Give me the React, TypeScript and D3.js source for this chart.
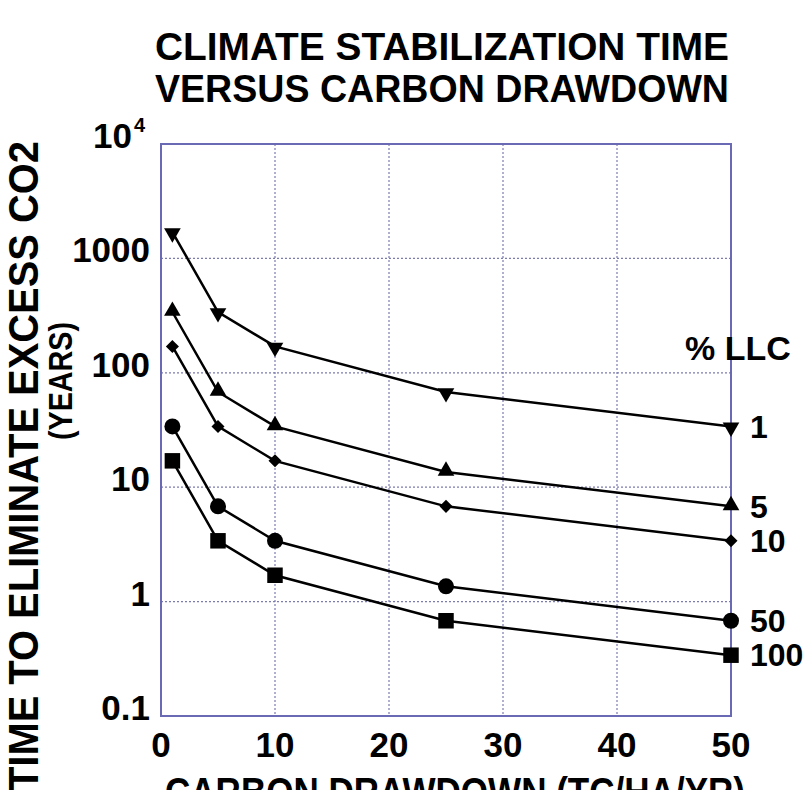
import React from "react";
import * as d3 from "d3";

const drawdown = [1, 5, 10, 25, 50];
const llcLabels = ["1", "5", "10", "50", "100"];
const series1 = [1700, 340, 170, 68, 34];
const series5 = [340, 68, 34, 13.6, 6.8];
const series10 = [170, 34, 17, 6.8, 3.4];
const series50 = [34, 6.8, 3.4, 1.36, 0.68];
const series100 = [17, 3.4, 1.7, 0.68, 0.34];
const xTicks = [0, 10, 20, 30, 40, 50];
const yTicks = [0.1, 1, 10, 100, 1000];
const yTickLabels = ["0.1", "1", "10", "100", "1000"];
const markerShapes = ["triDown", "triUp", "diamond", "circle", "square"];

const W = 811, H = 790;
const L = 161, R = 731, T = 144, B = 716;

export default function App() {
  const x = d3.scaleLinear().domain([0, 50]).range([L, R]);
  const y = d3.scaleLog().domain([0.1, 10000]).range([B, T]);
  const allSeries = [series1, series5, series10, series50, series100];
  const line = d3.line<number>().x((_, i) => x(drawdown[i])).y((v) => y(v));
  const font = "'Liberation Sans Narrow', 'Liberation Sans', Arial, sans-serif";
  const font2 = "'Liberation Sans', Arial, sans-serif";
  const grid = "#7b7bb0";
  const border = "#6a6ab4";

  const marker = (shape: string, cx: number, cy: number, k: string) => {
    switch (shape) {
      case "triDown":
        return <path key={k} d={d3.symbol().type(d3.symbolTriangle).size(120)()!} transform={`translate(${cx},${cy + 1}) rotate(180)`} fill="#000" />;
      case "triUp":
        return <path key={k} d={d3.symbol().type(d3.symbolTriangle).size(120)()!} transform={`translate(${cx},${cy - 1})`} fill="#000" />;
      case "diamond":
        return <path key={k} d={d3.symbol().type(d3.symbolSquare).size(85)()!} transform={`translate(${cx},${cy}) rotate(45)`} fill="#000" />;
      case "circle":
        return <circle key={k} cx={cx} cy={cy} r={8} fill="#000" />;
      default:
        return <path key={k} d={d3.symbol().type(d3.symbolSquare).size(240)()!} transform={`translate(${cx},${cy})`} fill="#000" />;
    }
  };

  return (
    <div style={{ position: "absolute", left: 0, top: 0 }}>
      <svg width={W} height={H} style={{ display: "block", background: "#fff" }}>
        <text x={442} y={60} textAnchor="middle" fontFamily={font} fontWeight="bold" fontSize={38} textLength={574} lengthAdjust="spacingAndGlyphs">CLIMATE STABILIZATION TIME</text>
        <text x={442} y={102} textAnchor="middle" fontFamily={font} fontWeight="bold" fontSize={38} textLength={574} lengthAdjust="spacingAndGlyphs">VERSUS CARBON DRAWDOWN</text>

        {/* grid */}
        {xTicks.filter((t) => t > 0 && t < 50).map((t) => (
          <line key={"gx" + t} x1={x(t)} x2={x(t)} y1={T} y2={B} stroke={grid} strokeWidth={1.2} strokeDasharray="2,2" />
        ))}
        {yTicks.filter((t) => t > 0.1).map((t) => (
          <line key={"gy" + t} x1={L} x2={R} y1={y(t)} y2={y(t)} stroke={grid} strokeWidth={1.2} strokeDasharray="2,2" />
        ))}
        <rect x={L} y={T} width={R - L} height={B - T} fill="none" stroke={border} strokeWidth={2} />

        {/* y tick labels */}
        {yTicks.map((t, i) => (
          <text key={"yl" + t} x={150} y={y(t) + 4} textAnchor="end" fontFamily={font2} fontWeight="bold" fontSize={35}>{yTickLabels[i]}</text>
        ))}
        <text x={132} y={y(10000) + 4} textAnchor="end" fontFamily={font2} fontWeight="bold" fontSize={35}>10</text>
        <text x={134} y={y(10000) - 12} textAnchor="start" fontFamily={font2} fontWeight="bold" fontSize={20}>4</text>

        {/* x tick labels */}
        {xTicks.map((t) => (
          <text key={"xl" + t} x={x(t)} y={757} textAnchor="middle" fontFamily={font2} fontWeight="bold" fontSize={35}>{t}</text>
        ))}

        <text x={455} y={806} textAnchor="middle" fontFamily={font} fontWeight="bold" fontSize={40} textLength={580} lengthAdjust="spacingAndGlyphs">CARBON DRAWDOWN (TC/HA/YR)</text>
        <text transform="translate(38,466) rotate(-90)" textAnchor="middle" fontFamily={font} fontWeight="bold" fontSize={43} textLength={650} lengthAdjust="spacingAndGlyphs">TIME TO ELIMINATE EXCESS CO2</text>
        <text transform="translate(72,381) rotate(-90)" textAnchor="middle" fontFamily={font} fontWeight="bold" fontSize={34} textLength={118} lengthAdjust="spacingAndGlyphs">(YEARS)</text>

        {/* series */}
        {allSeries.map((s, si) => (
          <g key={"s" + si}>
            <path d={line(s)!} fill="none" stroke="#000" strokeWidth={2.5} />
            {s.map((v, i) => marker(markerShapes[si], x(drawdown[i]), y(v), `m${si}-${i}`))}
            <text x={750} y={y(s[s.length - 1])} dy="0.35em" fontFamily={font2} fontWeight="bold" fontSize={32}>{llcLabels[si]}</text>
          </g>
        ))}
        <text x={685} y={360} fontFamily={font2} fontWeight="bold" fontSize={34}>% LLC</text>
      </svg>
    </div>
  );
}
